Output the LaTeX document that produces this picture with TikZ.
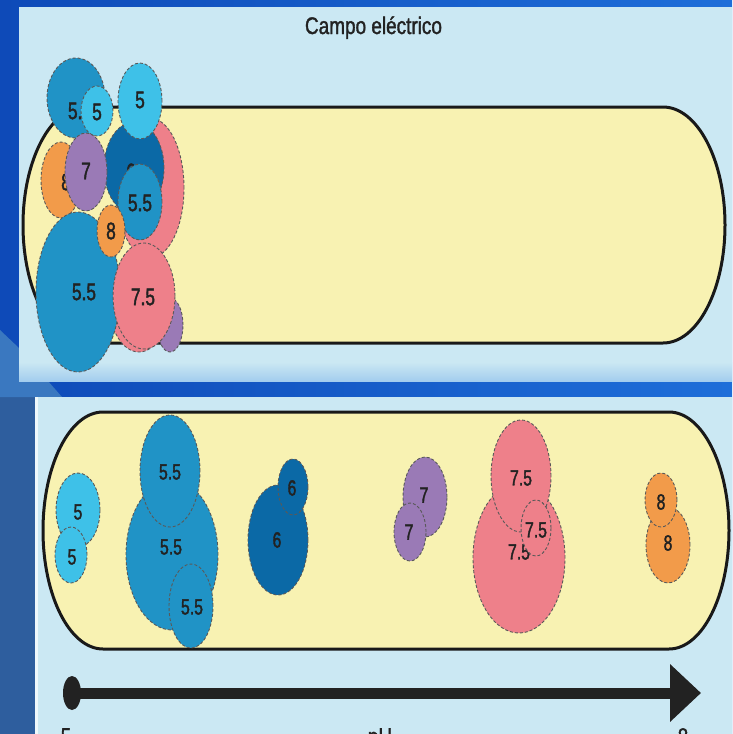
\documentclass[tikz,border=0pt]{standalone}
\usepackage{fontspec}
\setmainfont{Liberation Sans}
\newfontfamily\lblfont[FakeStretch=0.72,FakeBold=1.6]{Liberation Sans}
\newfontfamily\ttlfont[FakeStretch=0.79,FakeBold=1.4]{Liberation Sans}
\usetikzlibrary{shapes.geometric,arrows.meta}
\definecolor{winA}{HTML}{0E4AB8}
\definecolor{winB}{HTML}{1E6ED9}
\definecolor{winL}{HTML}{2E5E9E}
\definecolor{winS}{HTML}{3A78C0}
\definecolor{panel}{HTML}{CBE8F3}
\definecolor{panelD}{HTML}{A3CDEE}
\definecolor{tube}{HTML}{F8F2B2}
\definecolor{cfive}{HTML}{3EC1E8}
\definecolor{cfivefive}{HTML}{2093C6}
\definecolor{csix}{HTML}{0B69A6}
\definecolor{cseven}{HTML}{9A7AB6}
\definecolor{csevenfive}{HTML}{EE808A}
\definecolor{ceight}{HTML}{F29B4A}
\definecolor{ink}{HTML}{222222}
\newcommand{\Blob}[9]{%
  \node[blob, fill=#2, minimum width={2*#5}, minimum height={2*#6}] (#1) at (#3,#4) {};
  \node[lbl] (#1t) at ([shift={(#7,#8)}]#1.center) {#9};
}
\newcommand{\Capsule}[5]{% x1 x2 ytop ybot rx
  \draw[tubeline] (#1,#3) -- (#2,#3)
    .. controls ({#2+0.5523*#5},#3) and ({#2+#5},{(#3+#4)/2-0.5523*(#4-#3)/2}) .. ({#2+#5},{(#3+#4)/2})
    .. controls ({#2+#5},{(#3+#4)/2+0.5523*(#4-#3)/2}) and ({#2+0.5523*#5},#4) .. (#2,#4)
    -- (#1,#4)
    .. controls ({#1-0.5523*#5},#4) and ({#1-#5},{(#3+#4)/2+0.5523*(#4-#3)/2}) .. ({#1-#5},{(#3+#4)/2})
    .. controls ({#1-#5},{(#3+#4)/2-0.5523*(#4-#3)/2}) and ({#1-0.5523*#5},#3) .. (#1,#3) -- cycle;
}
\begin{document}
\begin{tikzpicture}[x=1pt,y=-1pt,
  blob/.style={ellipse, draw=black!65, densely dashed, line width=0.9pt, inner sep=0pt},
  lbl/.style={inner sep=0pt, text=ink, font=\lblfont\fontsize{22}{22}\selectfont},
  tubeline/.style={fill=tube, draw=black!90, line width=3pt},
  axis/.style={inner sep=0pt, text=ink, font=\ttlfont\fontsize{24}{24}\selectfont}]
\useasboundingbox (0,0) rectangle (732,734);
\clip (0,0) rectangle (732,734);
% window background
\shade[left color=winA, right color=winB] (0,0) rectangle (732,734);
\fill[winL] (0,397) rectangle (35,734);
\fill[winS] (0,330) -- (19,348) -- (19,381) -- (48,381) -- (62,397) -- (0,397) -- cycle;
% panels
\fill[panel] (19,7) rectangle (732,362);
\shade[top color=panel, bottom color=panelD] (19,362) rectangle (732,381);
\fill[panel] (35,397) rectangle (732,734);
\fill[white!70!panel] (35,397) rectangle (38,734);
% title
\node[inner sep=0pt, anchor=base, text=ink, font=\ttlfont\fontsize{24}{24}\selectfont] (title) at (373.5,34) {Campo eléctrico};
% ---------- top tube ----------
\Capsule{85}{663}{107}{343}{62}
\tikzset{lbl/.style={inner sep=0pt, text=ink, font=\lblfont\fontsize{24}{24}\selectfont}}
\Blob{tpink}{csevenfive}{150}{188}{34}{70}{0}{0}{}
\Blob{tsix}{csix}{134}{168}{30}{46}{-3}{4}{6}
\Blob{tpurs}{cseven}{170}{325}{13}{27}{0}{0}{}
\Blob{tpinks}{csevenfive}{139}{302}{30}{50}{0}{0}{}
\Blob{tfftl}{cfivefive}{76}{98}{29}{40}{4}{13}{5.5}
\Blob{teightl}{ceight}{61}{180}{20}{38}{5}{2}{8}
\Blob{tfives}{cfive}{97}{111}{16}{25}{0}{1}{5}
\Blob{tfiver}{cfive}{140}{101}{22}{38}{0}{-1}{5}
\Blob{tseven}{cseven}{86}{172}{21}{39}{0}{-1}{7}
\Blob{tffm}{cfivefive}{140}{202}{22}{38}{0}{1}{5.5}
\Blob{tffb}{cfivefive}{78}{292}{42}{80}{6}{0}{5.5}
\Blob{teights}{ceight}{111}{231}{14}{26}{0}{0}{8}
\Blob{tpinkb}{csevenfive}{144}{296}{31}{53}{-1}{1}{7.5}
% ---------- bottom tube ----------
\Capsule{103}{669}{412}{649}{60}
\tikzset{lbl/.style={inner sep=0pt, text=ink, font=\lblfont\fontsize{22}{22}\selectfont}}
\Blob{bfiveu}{cfive}{78}{510}{22}{37}{0}{2}{5}
\Blob{bfivel}{cfive}{71}{555}{16}{28}{1}{2}{5}
\Blob{bffm}{cfivefive}{172}{555}{46}{75}{-1}{-8}{5.5}
\Blob{bfft}{cfivefive}{170}{471}{30}{56}{0}{1}{5.5}
\Blob{bffb}{cfivefive}{191}{606}{22}{42}{1}{1}{5.5}
\Blob{bsixb}{csix}{278}{540}{30}{55}{-1}{0}{6}
\Blob{bsixs}{csix}{293}{487}{15}{28}{-1}{1}{6}
\Blob{bsevu}{cseven}{425}{497}{22}{40}{-1}{-2}{7}
\Blob{bsevl}{cseven}{410}{532}{16}{29}{-1}{0}{7}
\Blob{bpinkb}{csevenfive}{519}{558}{46}{75}{0}{-6}{7.5}
\Blob{bpinkt}{csevenfive}{521}{476}{30}{56}{0}{2}{7.5}
\Blob{bpinks}{csevenfive}{536}{528}{15}{28}{0}{2}{7.5}
\Blob{beightl}{ceight}{668}{545}{22}{38}{0}{-2}{8}
\Blob{beightu}{ceight}{661}{500}{16}{27}{0}{2}{8}
% ---------- pH axis ----------
\node[ellipse, fill=ink, inner sep=0pt, minimum width=18pt, minimum height=34pt] (adot) at (72,693) {};
\coordinate (atip) at (701,693);
\draw[ink, line width=11pt, -{Triangle[length=31pt,width=56pt]}] (adot.center) -- (atip);
\node[axis, anchor=north] (lfive) at (66,728) {5};
\node[axis, anchor=north] (lph) at (380,728) {pH};
\node[axis, anchor=north] (leight) at (683,728) {8};
\end{tikzpicture}
\end{document}
